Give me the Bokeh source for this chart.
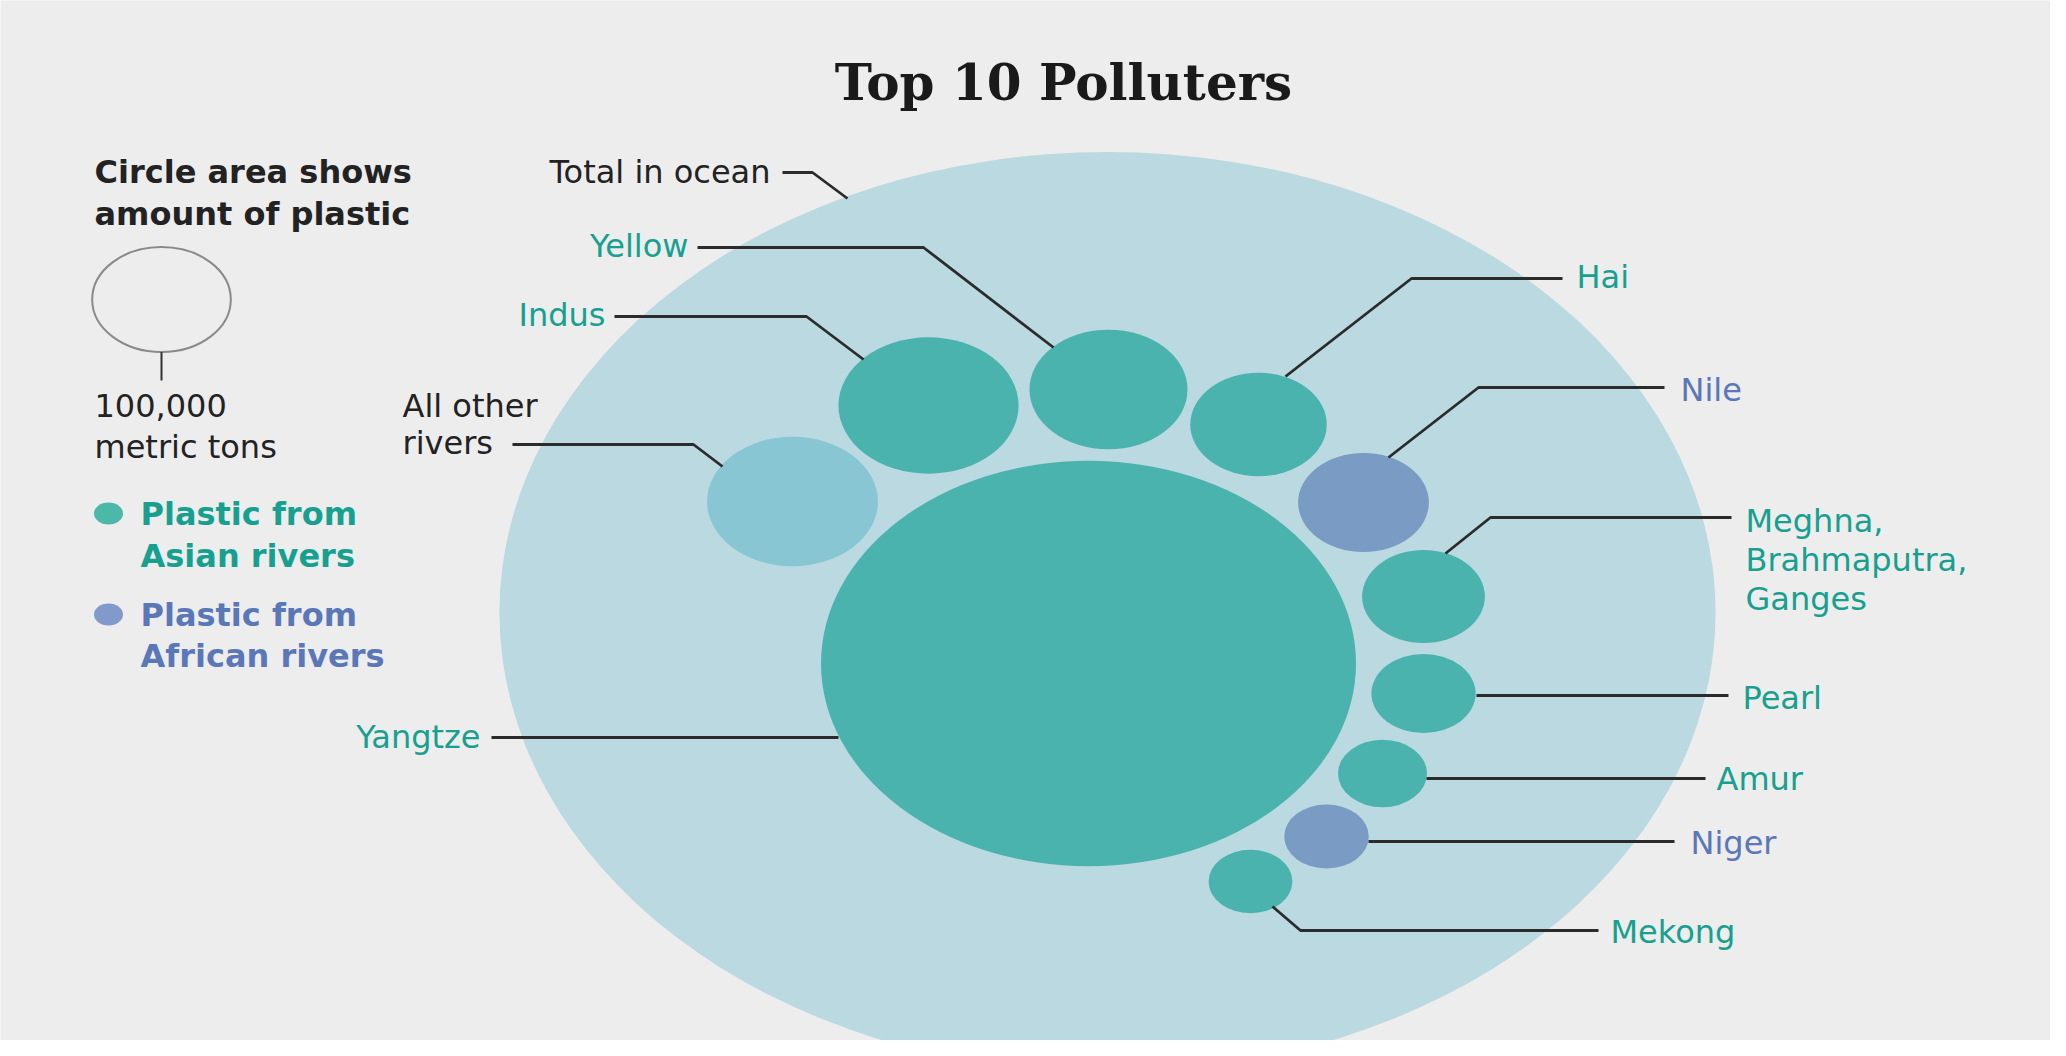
from bokeh.plotting import figure
from bokeh.models import Range1d
from bokeh.embed import file_html
from bokeh.resources import INLINE
from bokeh.core.properties import value
import math

# ---------------- data ----------------
rivers = ["Yangtze", "Indus", "Yellow", "Hai", "Nile",
          "Meghna, Brahmaputra, Ganges", "Pearl", "Amur", "Niger", "Mekong"]
plastic_tons = [1490000, 169000, 130000, 97000, 89000,
                78500, 56600, 41200, 37200, 36500]
continent = ["Asia", "Asia", "Asia", "Asia", "Africa",
             "Asia", "Asia", "Asia", "Africa", "Asia"]
other_rivers_tons = 152000
ocean_total_tons = 7700000
legend_ref_tons = 100000

# ---------------- layout (reference pixel frame) ----------------
W, H = 2050, 1040
X0, Y0 = 0, 0
K = 52.5 / math.sqrt(100000)   # vertical radius px per sqrt(ton)
ASPECT = 1.32                  # horizontal stretch of the graphic
TDY = -12                      # baseline correction for sans labels

centers = {
    "Yangtze": (1088, 663), "Indus": (928, 405), "Yellow": (1108, 389),
    "Hai": (1258, 424), "Nile": (1363, 502),
    "Meghna, Brahmaputra, Ganges": (1423, 596), "Pearl": (1423, 693),
    "Amur": (1382, 773), "Niger": (1326, 836), "Mekong": (1250, 881),
}
other_center = (792, 501)
ocean_center = (1107, 612)
legend_center = (161, 299)

BG = "#ededed"
OCEAN = "#bad9e0"
OTHER = "#89c6d3"
TEAL = "#4bb3ae"
BLUE = "#7a9bc4"
TEAL_TXT = "#17a08f"
BLUE_TXT = "#5a77b8"
DARK = "#222222"
LEADER = "#2b2b2b"
FONT = "DejaVu Sans"
FS = "32px"

p = figure(width=W, height=H, output_backend="svg", toolbar_location=None,
           x_range=Range1d(X0, X0 + W), y_range=Range1d(Y0 + H, Y0),
           min_border=0, background_fill_color=BG, border_fill_color=BG,
           outline_line_color=None)
p.axis.visible = False
p.grid.visible = False


def radii(t):
    ry = K * math.sqrt(t)
    return ry * ASPECT, ry


# ocean
rx, ry = radii(ocean_total_tons)
p.ellipse(x=[ocean_center[0]], y=[ocean_center[1]], width=[2 * rx], height=[2 * ry],
          fill_color=OCEAN, line_color=None)
# all other rivers
rx, ry = radii(other_rivers_tons)
p.ellipse(x=[other_center[0]], y=[other_center[1]], width=[2 * rx], height=[2 * ry],
          fill_color=OTHER, line_color=None)
# top 10 rivers
xs = [centers[r][0] for r in rivers]
ys = [centers[r][1] for r in rivers]
ws = [2 * radii(t)[0] for t in plastic_tons]
hs = [2 * radii(t)[1] for t in plastic_tons]
cols = [TEAL if c == "Asia" else BLUE for c in continent]
p.ellipse(x=xs, y=ys, width=ws, height=hs, fill_color=cols, line_color=None)

# size legend circle
rx, ry = radii(legend_ref_tons)
p.ellipse(x=[legend_center[0]], y=[legend_center[1]], width=[2 * rx], height=[2 * ry],
          fill_color=None, line_color="#8a8a8a", line_width=2)
p.line(x=[legend_center[0], legend_center[0]], y=[legend_center[1] + ry, 380],
       line_color="#333333", line_width=2)

# leader lines
leaders = [
    [(782, 172), (812, 172), (847, 198)],            # total in ocean
    [(697, 247), (923, 247), (1053, 347)],           # Yellow
    [(614, 316), (806, 316), (863, 359)],            # Indus
    [(512, 444), (693, 444), (722, 466)],            # All other rivers
    [(491, 737), (838, 737)],                        # Yangtze
    [(1285, 376), (1411, 278), (1562, 278)],         # Hai
    [(1388, 457), (1478, 387), (1664, 387)],         # Nile
    [(1445, 553), (1490, 517), (1731, 517)],         # Meghna
    [(1476, 695), (1728, 695)],                      # Pearl
    [(1426, 778), (1705, 778)],                      # Amur
    [(1368, 841), (1674, 841)],                      # Niger
    [(1272, 906), (1300, 930), (1598, 930)],         # Mekong
]
p.multi_line(xs=[[pt[0] for pt in l] for l in leaders],
             ys=[[pt[1] for pt in l] for l in leaders],
             line_color=LEADER, line_width=2.8)

# legend dots
p.ellipse(x=[108, 108], y=[513, 614], width=[29, 29], height=[22, 22],
          fill_color=["#4cb8a9", "#8199cb"], line_color=None)


def txt(x, y, lines, color, align="left", bold=False, size=FS, font=FONT, lh=40, dy=TDY):
    p.text(x=[x] * len(lines), y=[y + dy + i * lh for i in range(len(lines))], text=lines,
           text_color=color, text_align=align, text_baseline="alphabetic",
           text_font=value(font), text_font_size=size,
           text_font_style="bold" if bold else "normal")


# title
txt(1063, 100, ["Top 10 Polluters"], "#1a1a1a", align="center", bold=True,
    size="50px", font="DejaVu Serif", dy=-18)

# size legend
txt(94, 183, ["Circle area shows", "amount of plastic"], DARK, bold=True, lh=42)
txt(94, 417, ["100,000", "metric tons"], DARK, lh=41)
# color legend
txt(140, 525, ["Plastic from", "Asian rivers"], TEAL_TXT, bold=True, lh=42)
txt(140, 626, ["Plastic from", "African rivers"], BLUE_TXT, bold=True, lh=41)

# labels left
txt(770, 183, ["Total in ocean"], DARK, align="right")
txt(688, 257, ["Yellow"], TEAL_TXT, align="right")
txt(605, 326, ["Indus"], TEAL_TXT, align="right")
txt(402, 417, ["All other", "rivers"], DARK, lh=37)
txt(480, 748, ["Yangtze"], TEAL_TXT, align="right")
# labels right
txt(1576, 288, ["Hai"], TEAL_TXT)
txt(1680, 401, ["Nile"], BLUE_TXT)
txt(1745, 532, ["Meghna,", "Brahmaputra,", "Ganges"], TEAL_TXT, lh=39)
txt(1742, 709, ["Pearl"], TEAL_TXT)
txt(1716, 790, ["Amur"], TEAL_TXT)
txt(1690, 854, ["Niger"], BLUE_TXT)
txt(1610, 943, ["Mekong"], TEAL_TXT)

open("out.html", "w").write(file_html(p, INLINE))
